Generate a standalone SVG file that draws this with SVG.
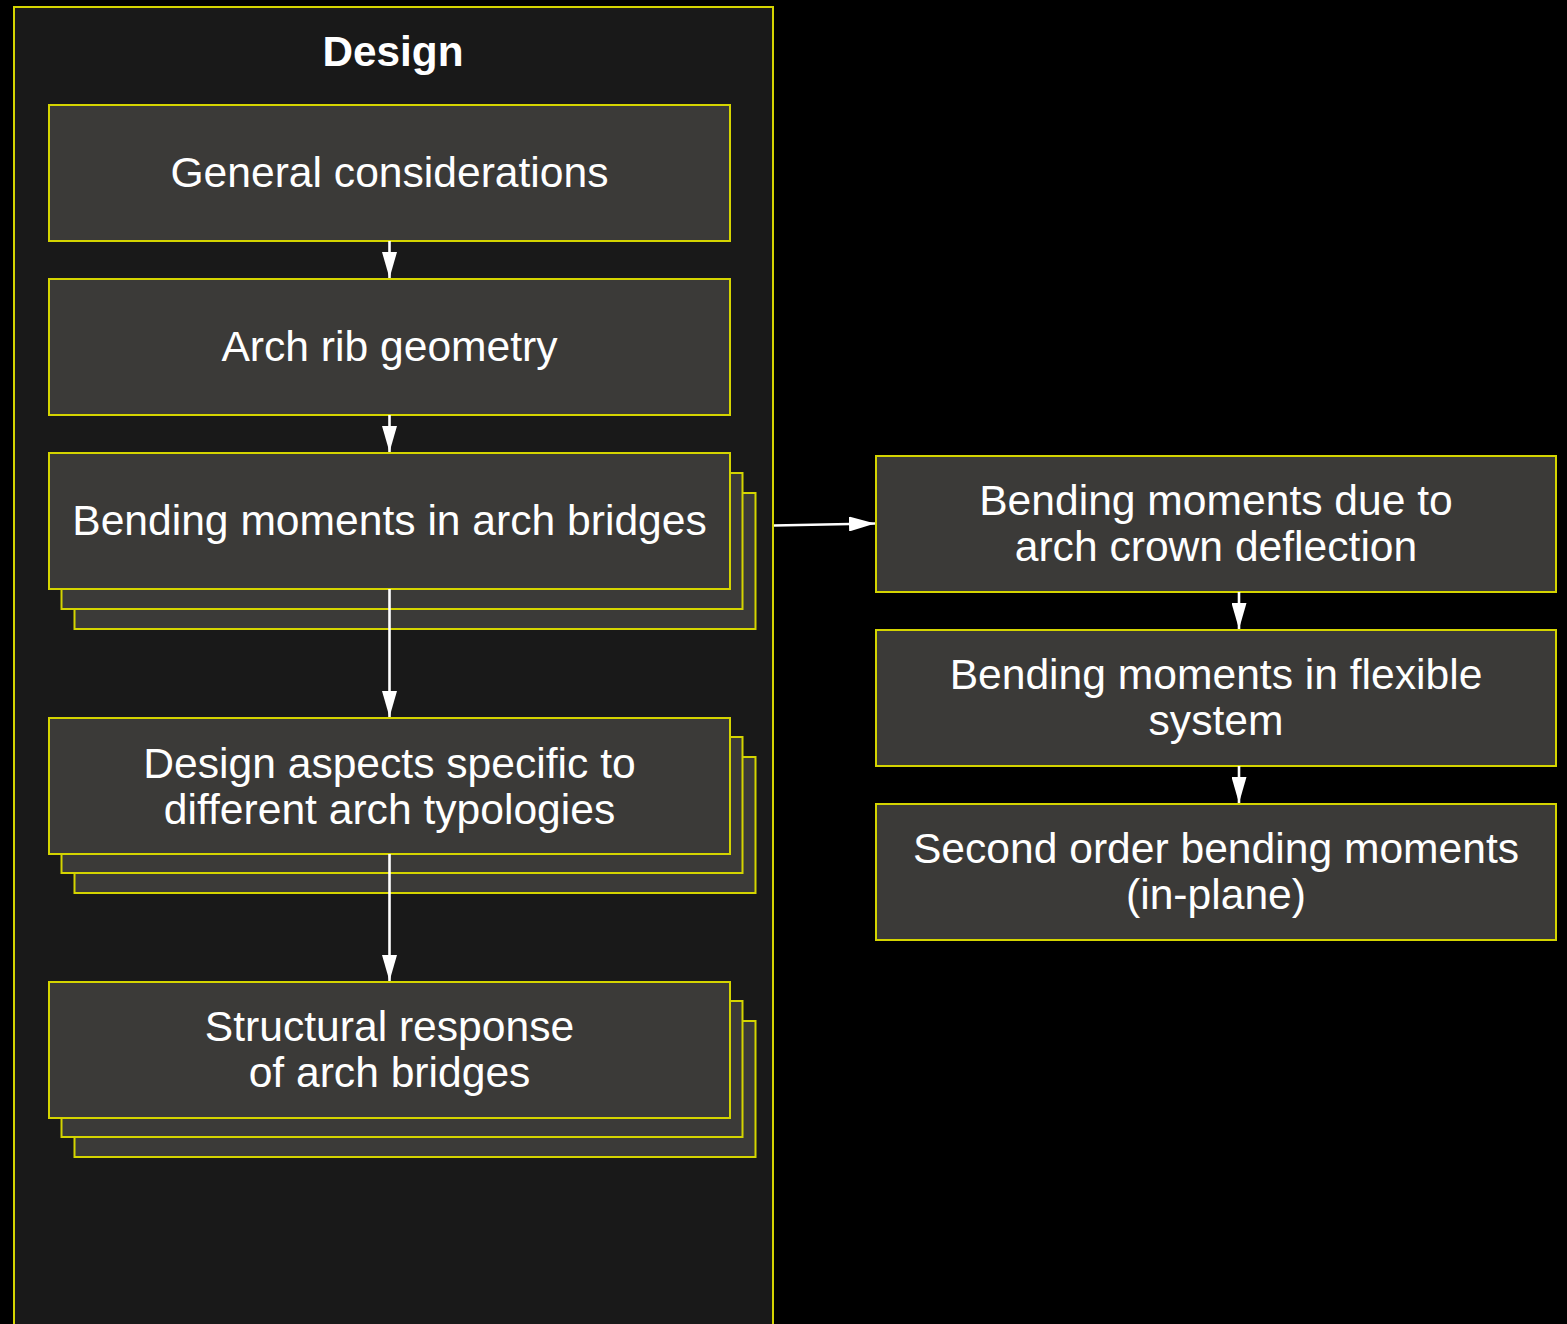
<svg xmlns="http://www.w3.org/2000/svg" width="1567" height="1324" viewBox="0 0 1567 1324">
<defs>
<style>
.box{fill:#3b3a38;stroke:#d4d400;stroke-width:2}
.cont{fill:#191919;stroke:#d4d400;stroke-width:2}
.t{font-family:"Liberation Sans",Arial,sans-serif;font-size:42.6px;fill:#ffffff;text-anchor:middle}
.title{font-weight:bold;font-size:42.3px}
.edge{stroke:#ffffff;stroke-width:2.6;fill:none}
</style>
<marker id="ah" viewBox="0 0 26 15" refX="26" refY="7.5" markerWidth="26" markerHeight="15" markerUnits="userSpaceOnUse" orient="auto">
<path d="M0,0 L26,7.5 L0,15 Z" fill="#ffffff"/>
</marker>
</defs>
<rect width="1567" height="1324" fill="#000000"/>
<g id="design">
<rect class="cont" x="14" y="7" width="759" height="1330"/>
<text class="t title" x="393" y="66">Design</text>
</g>
<g id="general">
<rect class="box" x="49" y="105" width="681" height="136"/>
<text class="t" x="389.5" y="187">General considerations</text>
</g>
<g id="archrib">
<rect class="box" x="49" y="279" width="681" height="136"/>
<text class="t" x="389.5" y="361">Arch rib geometry</text>
</g>
<g id="bending">
<rect class="box" x="74.5" y="493" width="681" height="136"/>
<rect class="box" x="61.5" y="473" width="681" height="136"/>
<rect class="box" x="49" y="453" width="681" height="136"/>
<text class="t" x="389.5" y="535">Bending moments in arch bridges</text>
</g>
<g id="aspects">
<rect class="box" x="74.5" y="757" width="681" height="136"/>
<rect class="box" x="61.5" y="737" width="681" height="136"/>
<rect class="box" x="49" y="718" width="681" height="136"/>
<text class="t" x="389.5" y="778">Design aspects specific to</text>
<text class="t" x="389.5" y="824">different arch typologies</text>
</g>
<g id="structural">
<rect class="box" x="74.5" y="1021" width="681" height="136"/>
<rect class="box" x="61.5" y="1001" width="681" height="136"/>
<rect class="box" x="49" y="982" width="681" height="136"/>
<text class="t" x="389.5" y="1041">Structural response</text>
<text class="t" x="389.5" y="1087">of arch bridges</text>
</g>
<g id="crown">
<rect class="box" x="876" y="456" width="680" height="136"/>
<text class="t" x="1216" y="515">Bending moments due to</text>
<text class="t" x="1216" y="561">arch crown deflection</text>
</g>
<g id="flexible">
<rect class="box" x="876" y="630" width="680" height="136"/>
<text class="t" x="1216" y="689">Bending moments in flexible</text>
<text class="t" x="1216" y="735">system</text>
</g>
<g id="secondorder">
<rect class="box" x="876" y="804" width="680" height="136"/>
<text class="t" x="1216" y="863">Second order bending moments</text>
<text class="t" x="1216" y="909">(in-plane)</text>
</g>
<g id="connectors">
<line class="edge" x1="389.5" y1="241" x2="389.5" y2="278" marker-end="url(#ah)"/>
<line class="edge" x1="389.5" y1="415" x2="389.5" y2="452" marker-end="url(#ah)"/>
<line class="edge" x1="389.5" y1="589" x2="389.5" y2="717" marker-end="url(#ah)"/>
<line class="edge" x1="389.5" y1="854" x2="389.5" y2="981" marker-end="url(#ah)"/>
<line class="edge" x1="774" y1="525.5" x2="875" y2="523.5" marker-end="url(#ah)"/>
<line class="edge" x1="1239" y1="592" x2="1239" y2="629" marker-end="url(#ah)"/>
<line class="edge" x1="1239" y1="766" x2="1239" y2="803" marker-end="url(#ah)"/>
</g>
</svg>
